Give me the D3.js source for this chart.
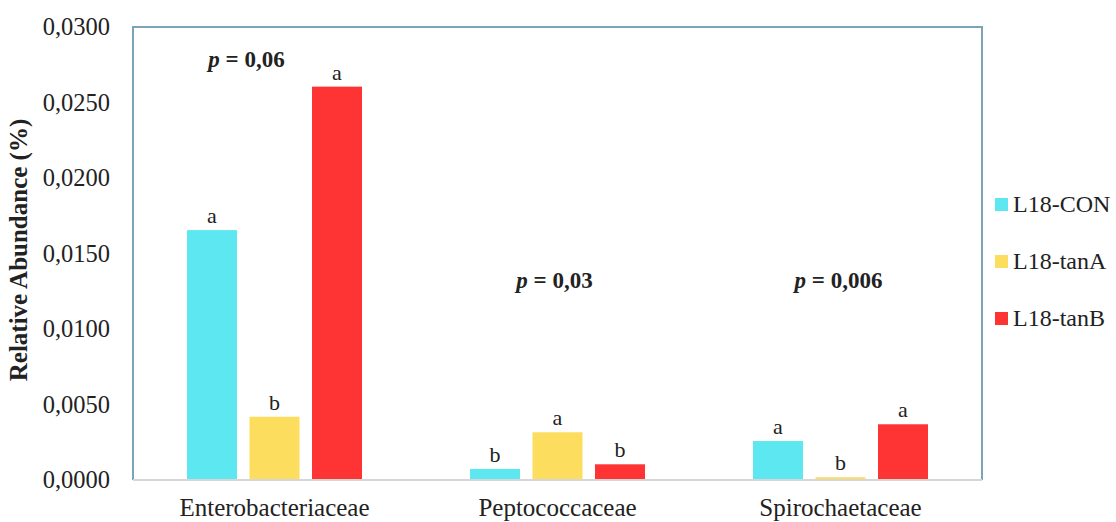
<!DOCTYPE html>
<html>
<head>
<meta charset="utf-8">
<script src="https://cdn.jsdelivr.net/npm/d3@7"></script>
<style>
  html, body { margin: 0; padding: 0; background: #fff; }
  svg text { font-family: "Times New Roman", "Liberation Serif", Tinos, "DejaVu Serif", serif !important; fill: #222; }
</style>
</head>
<body>
<svg id="chart" width="1116" height="522"></svg>
<script>
// ---- data ----
const categories = ["Enterobacteriaceae", "Peptococcaceae", "Spirochaetaceae"];
const seriesNames = ["L18-CON", "L18-tanA", "L18-tanB"];
const conValues  = [0.01655, 0.00073, 0.00258];
const tanAValues = [0.00419, 0.00316, 0.00018];
const tanBValues = [0.02605, 0.00104, 0.00369];
const conLetters  = ["a", "b", "a"];
const tanALetters = ["b", "a", "b"];
const tanBLetters = ["a", "b", "a"];
const pLabels = ["0,06", "0,03", "0,006"];
const yTicks = [0, 0.005, 0.01, 0.015, 0.02, 0.025, 0.03];

// ---- layout ----
const colors = ["#5de7f0", "#fddd5d", "#fe3334"];
const seriesValues = [conValues, tanAValues, tanBValues];
const seriesLetters = [conLetters, tanALetters, tanBLetters];
const plot = { left: 133, right: 982, top: 27, bottom: 480 };
const pOffsetX = [-28, -3, -2];
const pBaseline = [67, 288, 288];
const serif = '"Times New Roman", "Liberation Serif", Tinos, "DejaVu Serif", serif';

const svg = d3.select("#chart");

const x0 = d3.scaleBand().domain(categories).range([plot.left, plot.right]).padding(0);
const x1 = d3.scaleBand().domain(seriesNames).range([0, x0.bandwidth()])
  .paddingInner(0.2).paddingOuter(0.864);
const y = d3.scaleLinear().domain([0, 0.03]).range([plot.bottom, plot.top]);

const locale = d3.formatLocale({ decimal: ",", thousands: ".", grouping: [3], currency: ["", ""] });
const fmt = locale.format(".4f");

// frame (top, left, right in blue-gray)
const frameColor = "#7ba4b6";
svg.append("path")
  .attr("d", `M${plot.left},${plot.bottom}V${plot.top}H${plot.right}V${plot.bottom}`)
  .attr("fill", "none").attr("stroke", frameColor).attr("stroke-width", 2);

// y axis labels
const yAxis = d3.axisLeft(y).tickValues(yTicks).tickFormat(fmt).tickSize(0).tickPadding(23);
const gy = svg.append("g").attr("transform", `translate(${plot.left},0)`).call(yAxis);
gy.attr("font-family", serif);
gy.select(".domain").remove();
gy.selectAll("text").style("font-size", "24.5px").attr("fill", "#222");

// bars
const data = [];
categories.forEach((c, i) => {
  seriesNames.forEach((s, j) => {
    data.push({ cat: c, ser: s, v: seriesValues[j][i], letter: seriesLetters[j][i], color: colors[j] });
  });
});

const g = svg.append("g");
g.selectAll("rect.bar").data(data).join("rect")
  .attr("class", "bar")
  .attr("x", d => x0(d.cat) + x1(d.ser))
  .attr("y", d => y(d.v))
  .attr("width", x1.bandwidth())
  .attr("height", d => y(0) - y(d.v))
  .attr("fill", d => d.color);

// significance letters
g.selectAll("text.letter").data(data).join("text")
  .attr("class", "letter")
  .attr("x", d => x0(d.cat) + x1(d.ser) + x1.bandwidth() / 2)
  .attr("y", d => y(d.v) - 7)
  .attr("text-anchor", "middle")
  .style("font-size", "22px")
  .text(d => d.letter);

// baseline (x axis)
const xAxis = d3.axisBottom(x0).tickSize(0).tickPadding(18);
const gx = svg.append("g").attr("transform", `translate(0,${plot.bottom})`).call(xAxis);
gx.attr("font-family", serif);
gx.select(".domain").attr("stroke", "#d6d6d6").attr("stroke-width", 2)
  .attr("d", `M${plot.left},0H${plot.right}`);
gx.selectAll("text").style("font-size", "25px").attr("fill", "#222");

// p-values
categories.forEach((c, i) => {
  const t = svg.append("text")
    .attr("x", x0(c) + x0.bandwidth() / 2 + pOffsetX[i])
    .attr("y", pBaseline[i])
    .attr("text-anchor", "middle")
    .style("font-size", "23px")
    .style("font-weight", "bold");
  t.append("tspan").style("font-style", "italic").text("p");
  t.append("tspan").text(" = " + pLabels[i]);
});

// y title
svg.append("text")
  .attr("transform", "translate(27,250) rotate(-90)")
  .attr("text-anchor", "middle")
  .style("font-size", "25px")
  .style("font-weight", "bold")
  .text("Relative Abundance (%)");

// legend
const legendY = [204, 261, 318];
const lg = svg.append("g");
seriesNames.forEach((s, j) => {
  lg.append("rect").attr("x", 995).attr("y", legendY[j] - 6).attr("width", 13).attr("height", 13).attr("fill", colors[j]);
  lg.append("text").attr("x", 1013).attr("y", legendY[j] + 8).style("font-size", "24px").text(s);
});
</script>
</body>
</html>
